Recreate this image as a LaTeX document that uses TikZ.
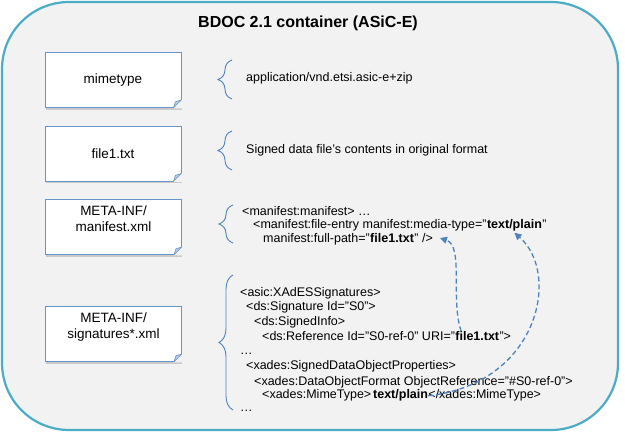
\documentclass[tikz,border=0pt]{standalone}
\usepackage{fontspec}
\setmainfont{Liberation Sans}
\usepackage{xcolor}
\usepackage{tikz}
\usetikzlibrary{arrows.meta,positioning,shadows,decorations.pathreplacing}
\definecolor{bgray}{HTML}{F2F2F2}
\definecolor{cframe}{HTML}{4BACC6}
\definecolor{docblue}{HTML}{4F81BD}
\definecolor{foldblue}{HTML}{B9CDE5}
% dog-eared corner of a file box
\newcommand{\foldcorner}[1]{%
  \fill[bgray] ([xshift=-8.5pt,yshift=-0.6pt]#1.south east) -- ([xshift=0.6pt,yshift=-0.6pt]#1.south east) -- ([xshift=0.6pt,yshift=8.5pt]#1.south east) -- cycle;
  \filldraw[fill=foldblue, draw=docblue!85, line width=0.6pt, line join=round] ([xshift=-8pt]#1.south east) -- ([xshift=-6pt,yshift=6pt]#1.south east) -- ([yshift=8pt]#1.south east) -- cycle;}

\begin{document}
\begin{tikzpicture}[x=1pt, y=-1pt,
  docbox/.style={draw=docblue!85, line width=0.8pt, fill=white, minimum width=136pt, minimum height=55pt, align=center, font=\fontsize{13.5}{15.5}\selectfont, inner sep=2pt, drop shadow={shadow xshift=0.5pt, shadow yshift=-2.5pt, opacity=0.35}},
  code/.style={font=\fontsize{12.5}{14.5}\selectfont, inner sep=0pt, anchor=base west},
  brc/.style={decorate, decoration={brace, amplitude=14pt}, draw=docblue, line width=0.9pt},
  darr/.style={-{Triangle[length=7pt, width=7pt]}, dash pattern=on 5pt off 3pt, draw=docblue, line width=1.3pt}]
\useasboundingbox (0,0) rectangle (625,433);
\draw[line width=2.2pt, draw=cframe, fill=bgray, rounded corners=67pt] (2,2) rectangle (618,430);
\node[font=\fontsize{16}{18}\selectfont\bfseries] (title) at (308,23) {BDOC 2.1 container (ASiC-E)};
% file boxes
\node[docbox] (mime) at (113,80) {mimetype};
\node[docbox] (data) at (113,153.5) {file1.txt};
\node[docbox, text depth=17pt] (mani) at (113.5,227) {META-INF/\\manifest.xml};
\node[docbox, text depth=17pt] (sigs) at (113.5,334) {META-INF/\\signatures*.xml};
\foreach \n in {mime,data,mani,sigs} \foldcorner{\n};
% braces
\draw[brc] (232,99) -- (232,60);
\draw[brc] (232,170) -- (232,131);
\draw[brc] (233,243) -- (233,205);
\draw[brc] (233,410) -- (233,275);
% contents
\node[code] (mimeval) at (246,82) {application/vnd.etsi.asic-e+zip};
\node[code] (dataval) at (246,154) {Signed data file’s contents in original format};
\node[code] (m1) at (242,215.5) {<manifest:manifest> …};
\node[code] (m2) at (253,229) {<manifest:file-entry manifest:media-type="};
\node[code] (mtype) at (m2.base east) {\textbf{text/plain}};
\node[code] (m2q) at (mtype.base east) {"};
\node[code] (m3) at (263,242.5) {manifest:full-path="};
\node[code] (mfile) at (m3.base east) {\textbf{file1.txt}};
\node[code] (mend) at (mfile.base east) {" />};
\node[code] (s1) at (240,296.5) {<asic:XAdESSignatures>};
\node[code] (s2) at (246,311) {<ds:Signature Id="S0">};
\node[code] (s3) at (254,325.5) {<ds:SignedInfo>};
\node[code] (s4) at (262,340.5) {<ds:Reference Id="S0-ref-0" URI="};
\node[code] (sfile) at (s4.base east) {\textbf{file1.txt}};
\node[code] (s4q) at (sfile.base east) {">};
\node[code] (s5) at (240,355) {…};
\node[code] (s6) at (246,370) {<xades:SignedDataObjectProperties>};
\node[code] (s7) at (254,385) {<xades:DataObjectFormat ObjectReference="\#S0-ref-0">};
\node[code] (s8) at (262,399) {<xades:MimeType>\kern1.5pt};
\node[code] (splain) at (s8.base east) {\textbf{text/plain}};
\node[code] (s8e) at (splain.base east) {</xades:MimeType>};
\node[code] (s9) at (240,412) {…};
% references
\draw[darr] ([xshift=6pt]sfile.north west) .. controls +(-11,-32) and +(24,8) .. ([xshift=7pt]mend.east);
\draw[darr] (splain.east) .. controls +(110,-12) and +(47,41) .. ([yshift=-1pt]mtype.south);
\end{tikzpicture}
\end{document}
